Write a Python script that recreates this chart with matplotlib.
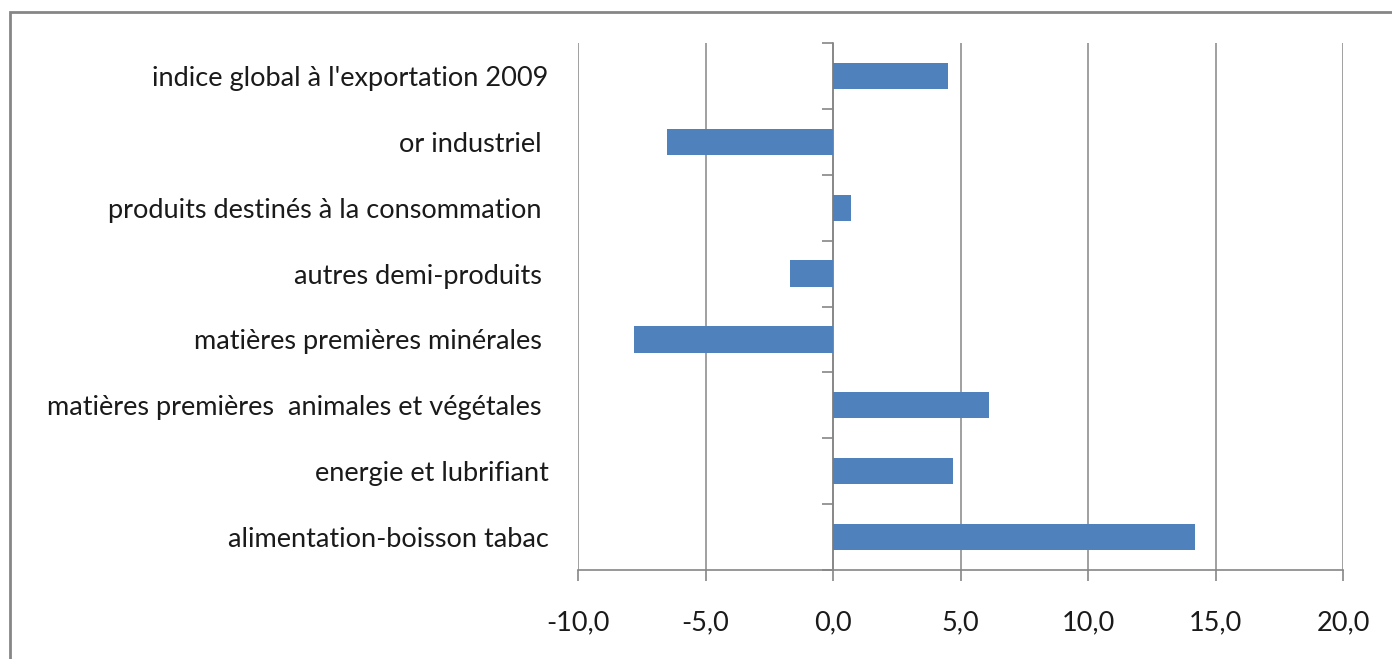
import matplotlib.pyplot as plt
from matplotlib.patches import Rectangle
import numpy as np

plt.rcParams['font.family'] = ['Lato', 'DejaVu Sans']

# categories from bottom to top
categories = [
    "alimentation-boisson tabac",
    "energie et lubrifiant",
    "matières premières  animales et végétales ",
    "matières premières minérales ",
    "autres demi-produits ",
    "produits destinés à la consommation ",
    "or industriel ",
    "indice global à l'exportation 2009",
]
values = [14.2, 4.7, 6.1, -7.8, -1.7, 0.7, -6.5, 4.5]
xticks = [-10, -5, 0, 5, 10, 15, 20]
xlabels = ["-10,0", "-5,0", "0,0", "5,0", "10,0", "15,0", "20,0"]

grid_col = "#868686"
bar_col = "#4F81BD"

fig = plt.figure(figsize=(13.92, 6.59), dpi=100)
ax = fig.add_axes([578 / 1392, 1 - 570 / 659, (1343 - 578) / 1392, (570 - 43) / 659])

y = np.arange(len(categories))
ax.barh(y, values, height=0.4, color=bar_col, zorder=3)

ax.set_xlim(-10, 20)
ax.set_ylim(-0.5, len(categories) - 0.5)
ax.set_xticks(xticks)
ax.set_xticklabels(xlabels)
ax.set_yticks(y)
ax.set_yticklabels(categories)

for s in ["top", "right", "left"]:
    ax.spines[s].set_visible(False)
ax.spines["bottom"].set_color(grid_col)
ax.spines["bottom"].set_linewidth(1.2)

ax.xaxis.grid(True, color=grid_col, linewidth=1.1)
ax.set_axisbelow(True)
ax.tick_params(axis="x", length=8, width=1.2, color=grid_col, pad=21,
               labelsize=19.5, labelcolor="#1a1a1a")
ax.tick_params(axis="y", length=0, pad=21, labelsize=19.5, labelcolor="#1a1a1a")

# vertical axis at zero with category boundary ticks
sec = ax.secondary_yaxis(10 / 30)
sec.set_yticks(np.arange(-0.5, len(categories), 1.0))
sec.set_yticklabels([])
sec.spines["left"].set_color(grid_col)
sec.spines["left"].set_linewidth(1.2)
sec.tick_params(length=8, width=1.2, color=grid_col)

# outer chart frame
fig.patches.append(Rectangle((10 / 1392, -0.05), 1.2, 1.05 - 12 / 659,
                             transform=fig.transFigure, fill=False,
                             edgecolor=grid_col, linewidth=2, clip_on=False))

fig.savefig("out.png", dpi=100)
